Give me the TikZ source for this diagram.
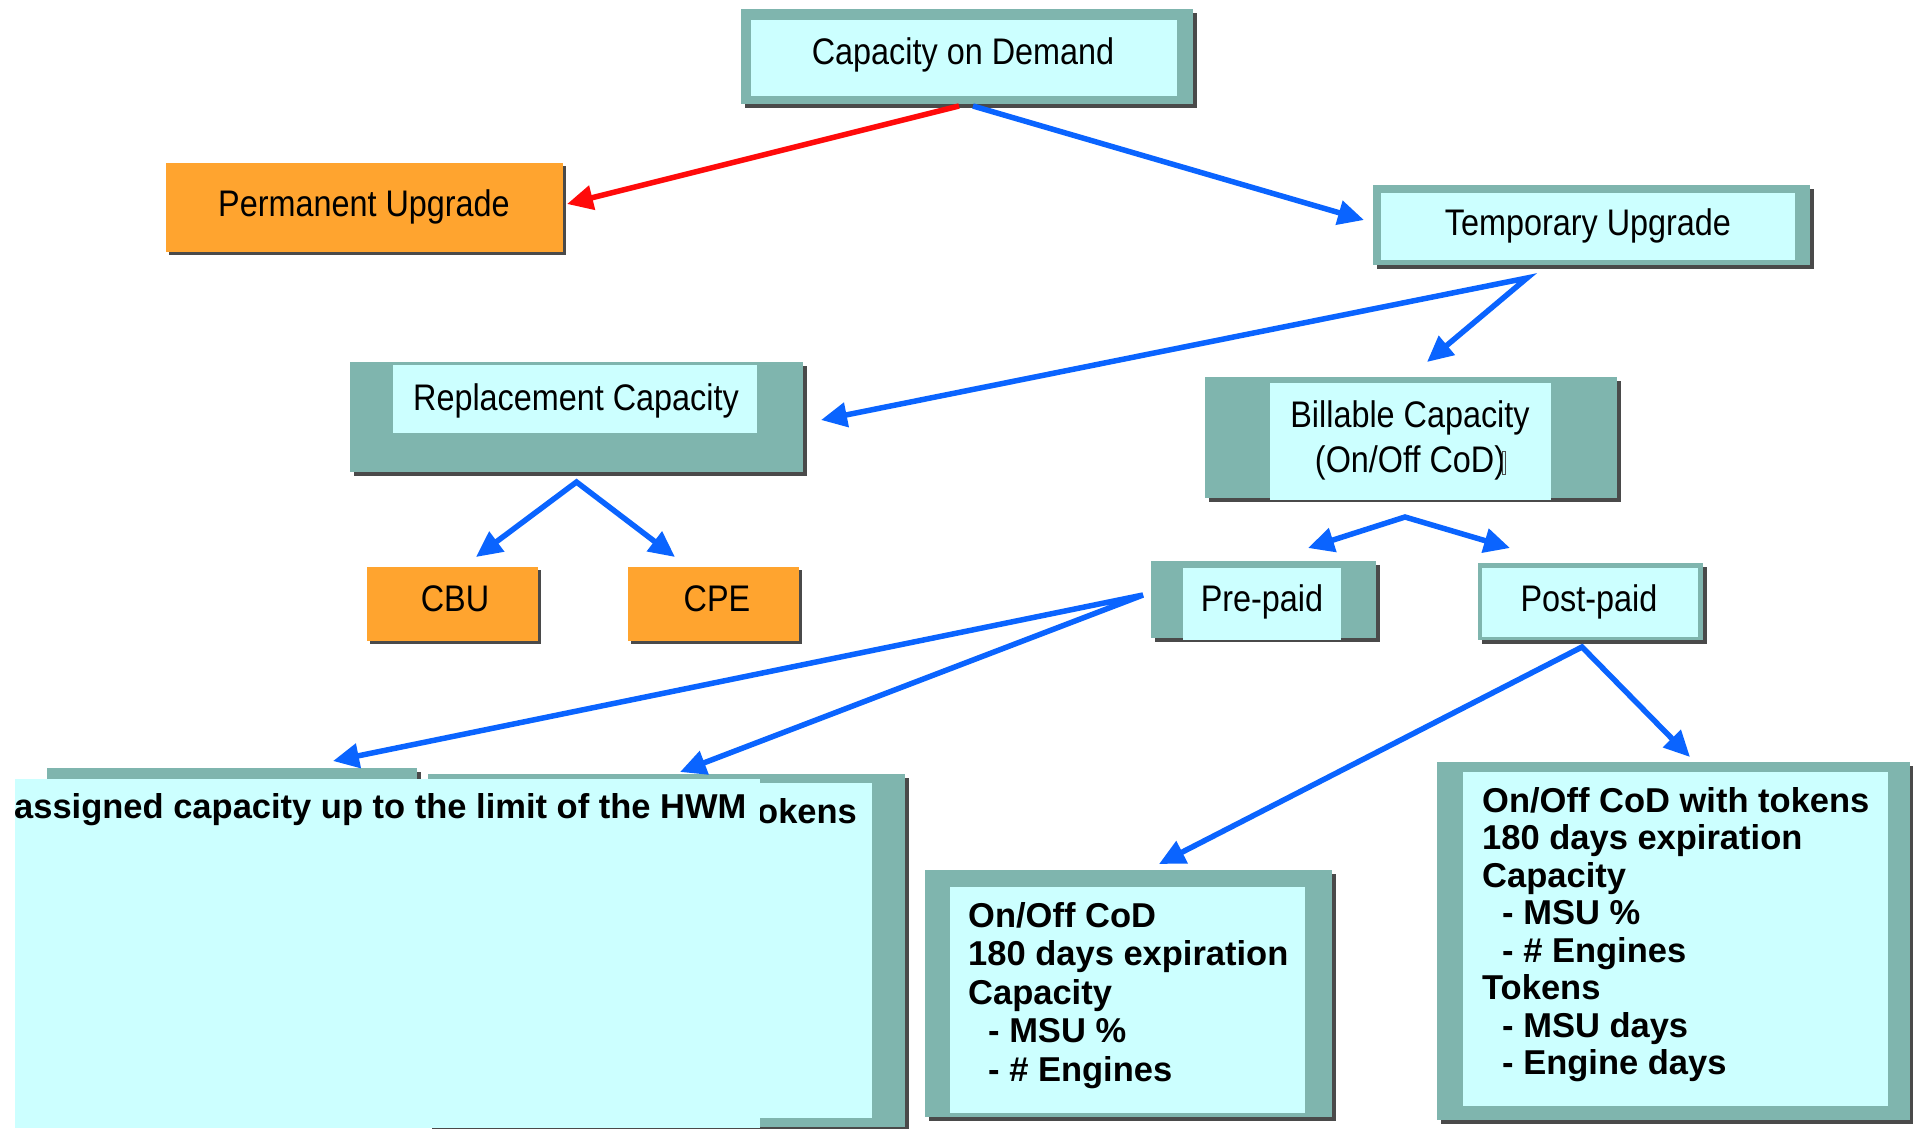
\documentclass[tikz,border=0pt]{standalone}
\usepackage{fontspec}
\setmainfont{Liberation Sans}
\newfontfamily\narrowfont[FakeStretch=0.875]{Liberation Sans}
\usetikzlibrary{shadows,arrows.meta}
\definecolor{teal0}{HTML}{7FB5AE}
\definecolor{cyan0}{HTML}{CCFFFF}
\definecolor{orange0}{HTML}{FFA42F}
\definecolor{blue0}{HTML}{0A64FF}
\definecolor{red0}{HTML}{FF0A0A}
\definecolor{shadow0}{HTML}{4A4A4A}
\begin{document}
\begin{tikzpicture}[x=1pt,y=-1pt,
  outerbox/.style={rectangle, fill=teal0, inner sep=0pt, outer sep=0pt,
    general shadow={fill=shadow0, shadow xshift=4pt, shadow yshift=-4pt}},
  orangebox/.style={rectangle, fill=orange0, inner sep=0pt, outer sep=0pt,
    general shadow={fill=shadow0, shadow xshift=3pt, shadow yshift=-3pt}},
  innerbox/.style={rectangle, fill=cyan0, inner sep=0pt, outer sep=0pt},
  overlaybox/.style={rectangle, fill=cyan0, inner sep=0pt, outer sep=0pt},
  lbl/.style={font=\narrowfont\fontsize{37}{40}\selectfont, inner sep=0pt, anchor=base},
  btxt/.style={font=\bfseries\fontsize{34.5}{38}\selectfont, inner sep=0pt, anchor=base west},
  barrow/.style={draw=blue0, line width=5.5pt, arrows={-Triangle[length=26pt,width=24pt]}},
  bdouble/.style={draw=blue0, line width=5.5pt, arrows={Triangle[length=26pt,width=24pt]-Triangle[length=26pt,width=24pt]}},
  rarrow/.style={draw=red0, line width=5.5pt, arrows={-Triangle[length=26pt,width=24pt]}},
]
\useasboundingbox[fill=white] (0,0) rectangle (1913,1128);

% Capacity on Demand
\node[outerbox, minimum width=452pt, minimum height=95pt] (cod) at (967,56.5) {};
\node[innerbox, minimum width=426pt, minimum height=76pt] (codi) at (964,58) {};
\node[lbl] (codt) at (963,64) {Capacity on Demand};

% Permanent Upgrade
\node[orangebox, minimum width=397pt, minimum height=89pt] (perm) at (364.5,207.5) {};
\node[lbl] (permt) at (364,216) {Permanent Upgrade};

% Temporary Upgrade
\node[outerbox, minimum width=437pt, minimum height=80pt] (temp) at (1591.5,225) {};
\node[innerbox, minimum width=414pt, minimum height=67pt] (tempi) at (1588,226.5) {};
\node[lbl] (tempt) at (1588,235) {Temporary Upgrade};

% Replacement Capacity
\node[outerbox, minimum width=453pt, minimum height=110pt] (repl) at (576.5,417) {};
\node[innerbox, minimum width=364pt, minimum height=68pt] (repli) at (575,399) {};
\node[lbl] (replt) at (576,410) {Replacement Capacity};

% Billable Capacity
\node[outerbox, minimum width=412pt, minimum height=121pt] (bill) at (1411,437.5) {};
\node[innerbox, minimum width=281pt, minimum height=117pt] (billi) at (1410.5,441.5) {};
\node[lbl] (billt1) at (1410,427) {Billable Capacity};
\node[lbl] (billt2) at (1410,472) {(On/Off CoD)};
\draw[black!70, line width=0.8pt] (1502,451) rectangle (1505,474);

% CBU / CPE
\node[orangebox, minimum width=171pt, minimum height=74pt] (cbu) at (452.5,604) {};
\node[lbl] (cbut) at (455,611) {CBU};
\node[orangebox, minimum width=171pt, minimum height=74pt] (cpe) at (713.5,604) {};
\node[lbl] (cpet) at (717,611) {CPE};

% Pre-paid / Post-paid
\node[outerbox, minimum width=225pt, minimum height=77pt] (pre) at (1263.5,599.5) {};
\node[innerbox, minimum width=158pt, minimum height=72pt] (prei) at (1262,604) {};
\node[lbl] (pret) at (1262,611) {Pre-paid};
\node[outerbox, minimum width=225pt, minimum height=77pt] (post) at (1590.5,601.5) {};
\node[innerbox, minimum width=216pt, minimum height=69pt] (posti) at (1590,602.5) {};
\node[lbl] (postt) at (1589,611) {Post-paid};

% bottom-left stacked boxes
\node[outerbox, minimum width=370pt, minimum height=232pt] (boxa) at (232,884) {};
\node[outerbox, minimum width=477pt, minimum height=353pt] (boxb) at (666.5,950.5) {};
\node[innerbox, minimum width=172pt, minimum height=335pt] (boxbi) at (786,950.5) {};
\node[btxt] (boxbt) at (757,823) {okens};
\node[overlaybox, minimum width=745pt, minimum height=349pt] (hwm) at (387.5,953.5) {};
\node[btxt] (hwmt) at (14,818) {assigned capacity up to the limit of the HWM};

% On/Off CoD box
\node[outerbox, minimum width=407pt, minimum height=247pt] (onoff) at (1128.5,993.5) {};
\node[innerbox, minimum width=355pt, minimum height=226pt] (onoffi) at (1127.5,1000) {};
\node[btxt] (onoff1) at (968,927) {On/Off CoD};
\node[btxt] (onoff2) at (968,965.5) {180 days expiration};
\node[btxt] (onoff3) at (968,1004) {Capacity};
\node[btxt] (onoff4) at (988,1042.5) {- MSU \%};
\node[btxt] (onoff5) at (988,1081) {- \# Engines};

% On/Off CoD with tokens box
\node[outerbox, minimum width=473pt, minimum height=358pt] (tok) at (1673.5,941) {};
\node[innerbox, minimum width=425pt, minimum height=334pt] (toki) at (1675.5,939) {};
\node[btxt] (tok1) at (1482,812) {On/Off CoD with tokens};
\node[btxt] (tok2) at (1482,849.5) {180 days expiration};
\node[btxt] (tok3) at (1482,887) {Capacity};
\node[btxt] (tok4) at (1502,924.5) {- MSU \%};
\node[btxt] (tok5) at (1502,962) {- \# Engines};
\node[btxt] (tok6) at (1482,999.5) {Tokens};
\node[btxt] (tok7) at (1502,1037) {- MSU days};
\node[btxt] (tok8) at (1502,1074.5) {- Engine days};

% connectors
\draw[rarrow] ([shift={(-8,2)}]cod.south) -- ([shift={(4,-3.5)}]perm.east);
\draw[barrow] ([shift={(6,2)}]cod.south) -- ([shift={(-9,-5)}]temp.west);
\coordinate (tsplit) at ([shift={(-64.5,13)}]temp.south);
\draw[bdouble] ([shift={(18,3)}]repl.east) -- (tsplit) -- ([shift={(16,-15)}]bill.north);
\coordinate (rsplit) at ([shift={(0,10)}]repl.south);
\draw[bdouble] ([shift={(23.5,-10)}]cbu.north) -- (rsplit) -- ([shift={(-38.5,-10)}]cpe.north);
\coordinate (bsplit) at ([shift={(-6,19)}]bill.south);
\draw[bdouble] ([shift={(44.5,-13)}]pre.north) -- (bsplit) -- ([shift={(-80.5,-15)}]post.north);
\coordinate (psplit) at ([shift={(-8,-4.5)}]pre.west);
\draw[bdouble] ([shift={(101,-7)}]boxa.north) -- (psplit) -- ([shift={(13.5,-2)}]boxb.north);
\coordinate (qsplit) at ([shift={(-8.5,7)}]post.south);
\draw[bdouble] ([shift={(30.5,-6)}]onoff.north) -- (qsplit) -- ([shift={(16.5,-5)}]tok.north);
\end{tikzpicture}
\end{document}
